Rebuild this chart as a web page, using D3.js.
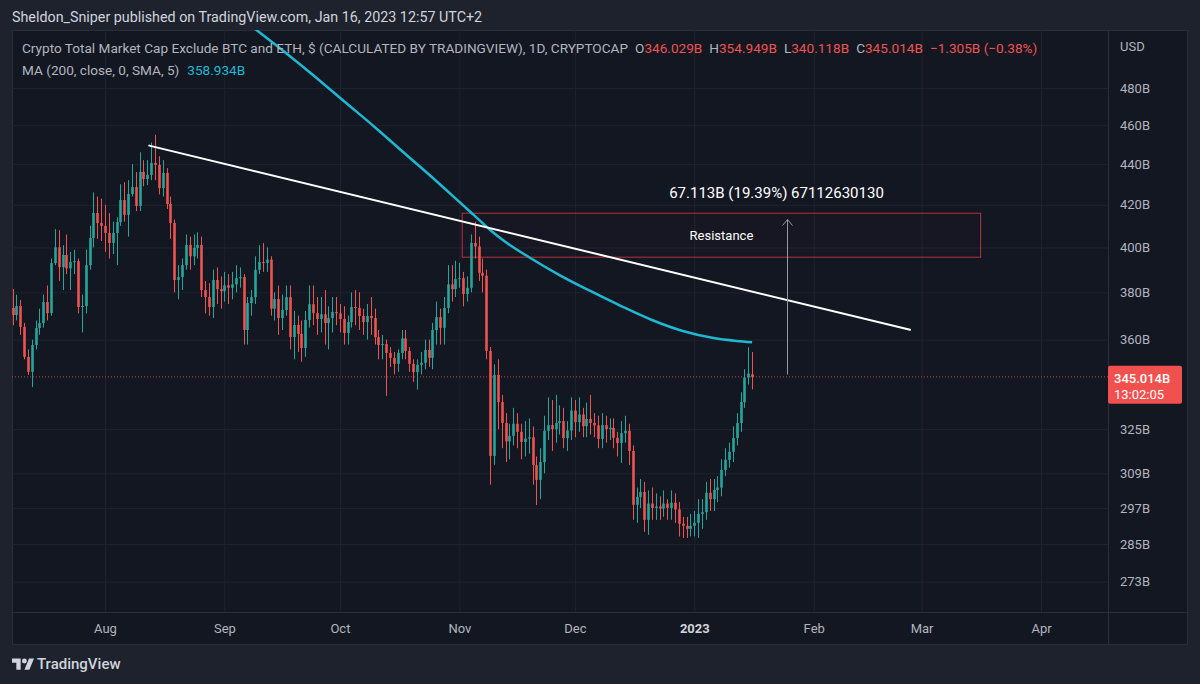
<!DOCTYPE html>
<html>
<head>
<meta charset="utf-8">
<script src="https://cdn.jsdelivr.net/npm/d3@7"></script>
<style>
  html, body { margin: 0; padding: 0; background: #1e222d; }
  svg text { font-family: Roboto, "Noto Sans", sans-serif; }
</style>
</head>
<body>
<svg id="chart"></svg>
<script>
// daily bars, first bar on firstDay, one value per day (billions of USD)
var firstDay = "2022-07-08";
var opens = [373.3,370.3,374.1,365.3,353.0,347.0,357.8,364.8,366.9,375.8,371.1,392.9,400.1,391.1,396.6,390.6,393.4,393.8,373.7,374.1,
  392.0,404.4,416.1,411.4,410.0,406.7,402.1,406.7,411.8,422.3,415.2,425.2,428.6,419.5,436.1,432.6,434.6,440.6,439.6,428.1,
  435.6,420.4,411.4,385.4,386.7,392.0,401.2,396.0,399.8,401.2,381.0,378.0,373.7,385.4,381.4,380.5,383.1,382.0,383.5,386.2,
  386.7,364.0,375.4,377.9,389.9,393.4,393.0,394.5,373.0,377.1,369.0,372.4,377.9,361.1,366.1,362.4,356.6,368.2,374.9,371.1,
  368.6,370.6,366.9,369.0,371.6,371.0,368.6,362.8,367.3,373.7,373.3,369.9,367.3,369.9,369.0,361.0,357.8,358.2,354.6,352.6,
  350.2,354.6,360.5,355.4,350.2,346.9,349.8,350.6,355.8,352.6,364.0,369.4,364.9,373.3,383.5,381.4,385.8,386.2,379.3,382.0,
  402.1,400.5,388.6,387.3,355.4,315.2,345.8,335.2,327.3,320.5,322.5,327.0,324.0,320.3,321.5,322.0,312.0,306.7,313.0,324.4,
  326.5,325.0,327.3,328.0,321.7,324.5,332.0,327.6,330.5,326.1,328.8,327.3,326.4,321.4,326.5,325.0,325.5,321.8,319.9,323.5,
  324.4,317.0,298.1,300.8,302.5,293.0,298.5,297.0,297.5,296.8,298.5,297.0,298.8,296.5,291.7,291.0,290.0,291.0,292.0,295.0,
  295.6,302.2,300.0,303.2,304.0,310.2,313.8,316.7,321.7,327.3,335.2,344.8,346.029];
var highs = [381.5,379.0,376.7,367.0,356.0,360.0,368.0,373.0,379.0,383.0,395.0,408.5,408.0,401.0,406.0,398.0,399.0,395.0,379.0,399.0,
  410.0,426.0,424.0,423.0,420.0,416.0,412.0,414.0,430.0,431.0,432.0,440.0,436.0,446.0,442.0,442.0,451.0,455.0,444.0,442.0,
  438.0,424.0,413.0,392.0,395.0,406.0,405.0,406.0,407.0,405.0,385.0,384.0,390.0,391.0,387.0,389.0,388.0,389.0,392.0,391.0,
  388.0,378.0,381.0,396.0,401.0,402.0,400.0,396.0,380.0,383.0,379.0,383.0,383.0,372.0,370.0,368.0,372.0,383.0,383.0,378.0,
  378.0,381.0,374.0,378.0,378.0,375.0,374.0,370.0,380.0,381.0,380.0,373.0,375.0,378.0,373.0,364.0,362.0,360.0,357.0,355.0,
  356.0,364.0,364.0,357.0,352.0,352.0,355.0,360.0,360.0,367.0,376.0,373.0,378.0,392.0,392.0,394.0,393.0,389.0,387.0,406.0,
  412.0,405.0,395.0,390.0,357.0,350.0,352.0,338.0,331.0,327.0,333.0,331.0,327.0,328.0,329.0,326.0,315.0,318.0,330.0,337.0,
  336.0,338.0,334.0,333.0,328.0,337.0,336.0,337.0,333.0,335.0,338.0,331.0,330.0,331.0,330.0,329.0,329.0,324.0,328.0,330.0,
  327.0,319.0,304.0,307.0,306.0,303.0,304.0,302.0,301.0,303.0,300.0,303.0,302.0,299.0,294.0,294.0,295.0,296.0,300.0,300.0,
  306.0,307.0,307.0,308.0,314.0,318.0,320.0,326.0,331.0,339.0,348.0,356.9,354.949];
var lows = [366.0,368.0,362.0,352.0,345.8,341.0,356.0,362.0,365.0,368.0,370.0,392.0,385.0,381.0,388.0,381.0,388.0,371.0,363.0,371.0,
  390.0,400.0,404.0,403.0,398.0,395.0,397.0,392.0,410.0,412.0,405.0,424.0,417.0,417.0,429.0,429.6,432.0,432.0,425.0,424.0,
  418.0,404.0,380.0,377.0,381.0,390.0,390.0,392.0,395.0,378.0,371.0,370.0,369.0,375.0,373.0,376.0,375.0,377.0,380.0,382.0,
  358.0,358.0,370.0,375.0,388.0,389.0,389.0,370.0,368.0,362.0,364.0,370.0,356.0,352.0,355.0,351.0,353.0,365.0,366.0,362.0,
  363.0,358.0,356.0,363.0,366.0,363.0,358.0,358.0,365.0,366.0,364.0,362.0,360.0,362.0,358.0,352.0,352.0,337.6,349.0,346.0,
  347.0,352.0,352.0,347.0,343.0,340.0,346.0,348.0,349.0,348.0,358.0,358.0,358.0,371.0,376.0,378.0,382.0,374.0,376.0,380.0,
  395.0,385.0,380.0,352.0,305.0,312.0,325.0,318.0,313.0,314.0,319.0,318.0,314.0,315.0,316.0,305.0,298.0,300.0,309.0,321.0,
  317.0,320.0,323.0,318.0,317.0,321.0,322.0,324.0,322.0,322.0,323.0,322.0,318.0,318.0,320.0,321.0,318.0,315.0,312.7,320.0,
  312.0,293.0,292.0,297.0,289.0,288.0,293.0,293.0,293.0,294.0,293.0,293.0,292.0,287.5,287.0,287.0,287.5,287.5,287.0,290.0,
  293.0,296.0,296.0,299.0,301.0,308.0,311.0,313.0,319.0,324.0,333.0,342.0,340.118];
var closes = [370.3,374.1,365.3,353.0,347.0,357.8,364.8,366.9,375.8,371.1,392.9,400.1,391.1,396.6,390.6,393.4,393.8,373.7,374.1,392.0,
  404.4,416.1,411.4,410.0,406.7,402.1,406.7,411.8,422.3,415.2,425.2,428.6,419.5,436.1,432.6,434.6,440.6,439.6,428.1,435.6,
  420.4,411.4,385.4,386.7,392.0,401.2,396.0,399.8,401.2,381.0,378.0,373.7,385.4,381.4,380.5,383.1,382.0,383.5,386.2,386.7,
  364.0,375.4,377.9,389.9,393.4,393.0,394.5,373.0,377.1,369.0,372.4,377.9,361.1,366.1,362.4,356.6,368.2,374.9,371.1,368.6,
  370.6,366.9,369.0,371.6,371.0,368.6,362.8,367.3,373.7,373.3,369.9,367.3,369.9,369.0,361.0,357.8,358.2,354.6,352.6,350.2,
  354.6,360.5,355.4,350.2,346.9,349.8,350.6,355.8,352.6,364.0,369.4,364.9,373.3,383.5,381.4,385.8,386.2,379.3,382.0,402.1,
  400.5,388.6,387.3,355.4,315.2,345.8,335.2,327.3,320.5,322.5,327.0,324.0,320.3,321.5,322.0,312.0,306.7,313.0,324.4,326.5,
  325.0,327.3,328.0,321.7,324.5,332.0,327.6,330.5,326.1,328.8,327.3,326.4,321.4,326.5,325.0,325.5,321.8,319.9,323.5,324.4,
  317.0,298.1,300.8,302.5,293.0,298.5,297.0,297.5,296.8,298.5,297.0,298.8,296.5,291.7,291.0,290.0,291.0,292.0,295.0,295.6,
  302.2,300.0,303.2,304.0,310.2,313.8,316.7,321.7,327.3,335.2,344.8,346.319,345.014];

// MA 200 at a few dates
var maDates = ["2022-09-08","2022-09-16","2022-09-24","2022-10-02","2022-10-10","2022-10-18","2022-10-26","2022-11-01",
  "2022-11-05","2022-11-09","2022-11-13","2022-11-19","2022-11-27","2022-12-05","2022-12-13","2022-12-21","2022-12-29",
  "2023-01-06","2023-01-12","2023-01-16"];
var maValues = [515.2,501.3,487.2,472.9,459.1,445.1,431.6,421.4,414.7,408.1,402.5,395.7,387.6,380.6,374.1,368.2,363.6,360.7,359.5,358.934];

// axis ticks
var priceTicks = [273, 285, 297, 309, 325, 360, 380, 400, 420, 440, 460, 480];
var monthDates = ["2022-08-01","2022-09-01","2022-10-01","2022-11-01","2022-12-01","2023-01-01","2023-02-01","2023-03-01","2023-04-01"];
var monthLabels = ["Aug","Sep","Oct","Nov","Dec","2023","Feb","Mar","Apr"];

// drawings
var trendDates = ["2022-08-12T12:00:00Z", "2023-02-26T00:00:00Z"];
var trendValues = [449.4, 364.1];
var boxDates = ["2022-11-01T18:00:00Z", "2023-03-16T08:00:00Z"];
var boxValues = [416.0, 395.6];
var measureDate = "2023-01-25";
var measureValues = [345.9, 413.0];
var lastPrice = 345.014;

// sizes
var svgWidth = 1200;
var svgHeight = 684;
var pane = {left: 12, right: 1188, top: 30, bottom: 645};
var plotRight = 1108;
var plotBottom = 612;

var upColor = "#26a69a";
var downColor = "#ef5350";
var axisText = "#b2b5be";

var svg = d3.select("#chart")
    .attr("width", svgWidth)
    .attr("height", svgHeight)
    .style("display", "block");

svg.append("rect")
    .attr("width", svgWidth)
    .attr("height", svgHeight)
    .attr("fill", "#1e222d");

svg.append("rect")
    .attr("x", pane.left + 0.5)
    .attr("y", pane.top + 0.5)
    .attr("width", pane.right - pane.left - 1)
    .attr("height", pane.bottom - pane.top - 1)
    .attr("fill", "#131722")
    .attr("stroke", "#2a2e39");

// scales
var parse = function(s) { return new Date(s.length === 10 ? s + "T00:00:00Z" : s); };
var x = d3.scaleUtc()
    .domain([parse(firstDay), parse("2023-04-01")])
    .range([12.5, 1041]);
var y = d3.scaleLog()
    .domain([263.7, 512.9])
    .range([plotBottom, pane.top]);

var bars = closes.map(function(c, i) {
    return {
        date: d3.utcDay.offset(parse(firstDay), i),
        open: opens[i], high: highs[i], low: lows[i], close: c
    };
});

// clip
svg.append("clipPath").attr("id", "plotClip")
  .append("rect")
    .attr("x", pane.left)
    .attr("y", pane.top)
    .attr("width", plotRight - pane.left)
    .attr("height", plotBottom - pane.top);

// grid
var gridGroup = svg.append("g").attr("clip-path", "url(#plotClip)");
gridGroup.append("g")
    .attr("transform", "translate(0," + plotBottom + ")")
    .call(d3.axisBottom(x).tickValues(monthDates.map(parse)).tickSize(-(plotBottom - pane.top)).tickFormat(""))
    .call(function(g) { g.select(".domain").remove(); })
    .selectAll("line").attr("stroke", "#1f2330");
gridGroup.append("g")
    .attr("transform", "translate(" + pane.left + ",0)")
    .call(d3.axisLeft(y).tickValues(priceTicks).tickSize(-(plotRight - pane.left)).tickFormat(""))
    .call(function(g) { g.select(".domain").remove(); })
    .selectAll("line").attr("stroke", "#1f2330");

// axis separators
svg.append("line")
    .attr("x1", plotRight + 0.5).attr("x2", plotRight + 0.5)
    .attr("y1", pane.top).attr("y2", pane.bottom)
    .attr("stroke", "#2a2e39");
svg.append("line")
    .attr("x1", pane.left).attr("x2", pane.right)
    .attr("y1", plotBottom + 0.5).attr("y2", plotBottom + 0.5)
    .attr("stroke", "#2a2e39");

var chartGroup = svg.append("g").attr("clip-path", "url(#plotClip)");

// resistance box
chartGroup.append("rect")
    .attr("x", x(parse(boxDates[0])))
    .attr("y", y(boxValues[0]))
    .attr("width", x(parse(boxDates[1])) - x(parse(boxDates[0])))
    .attr("height", y(boxValues[1]) - y(boxValues[0]))
    .attr("fill", "rgba(242,54,69,0.015)")
    .attr("stroke", "#b1353d")
    .attr("stroke-width", 1);

// current price dotted line
chartGroup.append("line")
    .attr("x1", pane.left).attr("x2", plotRight)
    .attr("y1", y(lastPrice)).attr("y2", y(lastPrice))
    .attr("stroke", downColor)
    .attr("stroke-opacity", 0.8)
    .attr("stroke-dasharray", "1,2");

// candles
var barWidth = 2.6;
chartGroup.selectAll(".wick")
    .data(bars)
    .enter()
    .append("line")
    .attr("class", "wick")
    .attr("x1", function(d) { return Math.round(x(d.date)) + 0.5; })
    .attr("x2", function(d) { return Math.round(x(d.date)) + 0.5; })
    .attr("y1", function(d) { return y(d.high); })
    .attr("y2", function(d) { return y(d.low); })
    .attr("stroke", function(d) { return d.close >= d.open ? upColor : downColor; })
    .attr("stroke-width", 1);

chartGroup.selectAll(".body")
    .data(bars)
    .enter()
    .append("rect")
    .attr("class", "body")
    .attr("x", function(d) { return Math.round(x(d.date)) + 0.5 - barWidth / 2; })
    .attr("y", function(d) { return y(Math.max(d.open, d.close)); })
    .attr("width", barWidth)
    .attr("height", function(d) { return Math.max(1, Math.abs(y(d.open) - y(d.close))); })
    .attr("fill", function(d) { return d.close >= d.open ? upColor : downColor; });

// moving average
var maLine = d3.line()
    .x(function(d, i) { return x(parse(maDates[i])); })
    .y(function(d) { return y(d); })
    .curve(d3.curveMonotoneX);
chartGroup.append("path")
    .attr("d", maLine(maValues))
    .attr("fill", "none")
    .attr("stroke", "#1fb8d3")
    .attr("stroke-width", 2.5);

// trend line
chartGroup.append("line")
    .attr("x1", x(parse(trendDates[0])))
    .attr("y1", y(trendValues[0]))
    .attr("x2", x(parse(trendDates[1])))
    .attr("y2", y(trendValues[1]))
    .attr("stroke", "#ffffff")
    .attr("stroke-width", 2)
    .attr("stroke-linecap", "round");

// resistance label
chartGroup.append("text")
    .attr("x", (x(parse(boxDates[0])) + x(parse(boxDates[1]))) / 2)
    .attr("y", (y(boxValues[0]) + y(boxValues[1])) / 2)
    .attr("dy", "0.35em")
    .attr("text-anchor", "middle")
    .attr("fill", "#ffffff")
    .style("font-size", "13px")
    .text("Resistance");

// measure arrow
var mx = Math.round(x(parse(measureDate))) + 0.5;
var my0 = y(measureValues[0]);
var my1 = y(measureValues[1]);
chartGroup.append("line")
    .attr("x1", mx).attr("x2", mx)
    .attr("y1", my0).attr("y2", my1)
    .attr("stroke", "#9598a1")
    .attr("stroke-width", 1);
chartGroup.append("path")
    .attr("d", "M" + (mx - 5) + "," + (my1 + 6) + "L" + mx + "," + my1 + "L" + (mx + 5) + "," + (my1 + 6))
    .attr("fill", "none")
    .attr("stroke", "#9598a1")
    .attr("stroke-width", 1);
chartGroup.append("text")
    .attr("x", mx - 11)
    .attr("y", my1 - 27)
    .attr("dy", "0.35em")
    .attr("text-anchor", "middle")
    .attr("fill", "#ffffff")
    .style("font-size", "15px")
    .text("67.113B (19.39%) 67112630130");

// price axis
var priceAxis = svg.append("g")
    .attr("transform", "translate(" + plotRight + ",0)")
    .call(d3.axisRight(y).tickValues(priceTicks).tickSize(0).tickPadding(12).tickFormat(function(d) { return d + "B"; }));
priceAxis.select(".domain").remove();
priceAxis.selectAll("text")
    .attr("fill", axisText)
    .style("font-size", "13px")
    .style("font-family", "Roboto, sans-serif");

svg.append("text")
    .attr("x", plotRight + 12)
    .attr("y", 46)
    .attr("dy", "0.35em")
    .attr("fill", axisText)
    .style("font-size", "13px")
    .text("USD");

// last price label
var ly = y(lastPrice);
svg.append("rect")
    .attr("x", plotRight)
    .attr("y", ly - 11)
    .attr("width", 74)
    .attr("height", 38)
    .attr("rx", 2)
    .attr("fill", "#f0504e");
svg.append("text")
    .attr("x", plotRight + 6)
    .attr("y", ly + 2)
    .attr("dy", "0.35em")
    .attr("fill", "#ffffff")
    .style("font-size", "13px")
    .style("font-weight", "500")
    .text(d3.format(".3f")(lastPrice) + "B");
svg.append("text")
    .attr("x", plotRight + 6)
    .attr("y", ly + 18)
    .attr("dy", "0.35em")
    .attr("fill", "#ffffff")
    .style("font-size", "13px")
    .text("13:02:05");

// time axis
var timeAxis = svg.append("g")
    .attr("transform", "translate(0," + plotBottom + ")")
    .call(d3.axisBottom(x).tickValues(monthDates.map(parse)).tickSize(0).tickPadding(12)
        .tickFormat(function(d, i) { return monthLabels[i]; }));
timeAxis.select(".domain").remove();
timeAxis.selectAll("text")
    .attr("fill", function(d, i) { return monthLabels[i] === "2023" ? "#d1d4dc" : axisText; })
    .style("font-weight", function(d, i) { return monthLabels[i] === "2023" ? "700" : "400"; })
    .style("font-size", "13px")
    .style("font-family", "Roboto, sans-serif");

// header
svg.append("text")
    .attr("x", 12)
    .attr("y", 17)
    .attr("dy", "0.35em")
    .attr("fill", "#d1d4dc")
    .style("font-size", "14.3px")
    .text("Sheldon_Sniper published on TradingView.com, Jan 16, 2023 12:57 UTC+2");

// legend
var legend1 = svg.append("text")
    .attr("x", 22)
    .attr("y", 48)
    .attr("dy", "0.35em")
    .attr("fill", axisText)
    .style("font-size", "13.6px");
legend1.append("tspan").text("Crypto Total Market Cap Exclude BTC and ETH, $ (CALCULATED BY TRADINGVIEW), 1D, CRYPTOCAP");
var n = closes.length - 1;
var ohlc = [["O", opens[n]], ["H", highs[n]], ["L", lows[n]], ["C", closes[n]]];
ohlc.forEach(function(p, i) {
    legend1.append("tspan").attr("dx", i === 0 ? 7 : 7).text(p[0]);
    legend1.append("tspan").attr("fill", downColor).text(d3.format(".3f")(p[1]) + "B");
});
var change = closes[n] - closes[n - 1];
legend1.append("tspan").attr("dx", 7).attr("fill", downColor)
    .text(d3.format(".3f")(change).replace("-", "\u2212") + "B (" + d3.format(".2f")(change / closes[n - 1] * 100).replace("-", "\u2212") + "%)");

var legend2 = svg.append("text")
    .attr("x", 22)
    .attr("y", 70)
    .attr("dy", "0.35em")
    .attr("fill", axisText)
    .style("font-size", "13.6px");
legend2.append("tspan").text("MA (200, close, 0, SMA, 5)");
legend2.append("tspan").attr("dx", 8).attr("fill", "#1fb8d3").text(d3.format(".3f")(maValues[maValues.length - 1]) + "B");

// logo
var logo = svg.append("g").attr("transform", "translate(12,656) scale(0.62)");
logo.append("path")
    .attr("d", "M14 22H7V11H0V4h14v18zM28 22h-8l7.5-18h8L28 22z")
    .attr("fill", "#d1d4dc");
logo.append("circle")
    .attr("cx", 20).attr("cy", 8).attr("r", 4)
    .attr("fill", "#d1d4dc");
svg.append("text")
    .attr("x", 37)
    .attr("y", 664)
    .attr("dy", "0.35em")
    .attr("fill", "#d1d4dc")
    .style("font-size", "15px")
    .style("font-weight", "500")
    .text("TradingView");
</script>
</body>
</html>
